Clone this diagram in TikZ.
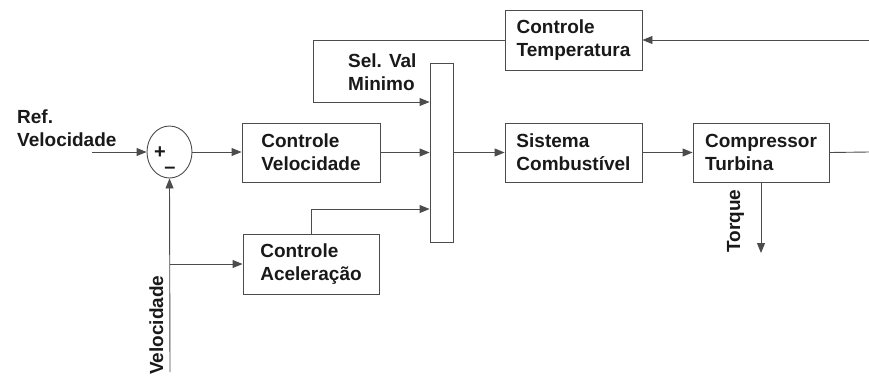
\documentclass[tikz,border=0pt]{standalone}
\usepackage{fontspec}
\setmainfont{Liberation Sans}
\usetikzlibrary{arrows.meta,shapes.geometric}
\begin{document}
\begin{tikzpicture}[x=1pt,y=-1pt,
  every node/.style={font=\fontsize{19}{23}\selectfont\bfseries, text=black!90},
  blk/.style={draw=black!70, line width=0.9pt, rectangle, inner sep=0pt, align=left},
  ln/.style={draw=black!70, line width=0.9pt},
  arr/.style={ln, -{Triangle[length=10pt,width=8pt]}},
  lbl/.style={inner sep=0pt, align=left},
  sgn/.style={font=\fontsize{20}{20}\selectfont\bfseries, inner sep=0pt}]
\useasboundingbox (0,0) rectangle (869,376);
% blocks
\node[blk, draw=black!70, ellipse, minimum width=45pt, minimum height=52pt] (sum) at (169.5,152) {};
\node[sgn] (plus) at (160,153) {+};
\node[sgn] (minus) at (170,170) {–};
\node[blk, minimum width=138pt, minimum height=59pt] (cv) at (311,152.5) {Controle\\Velocidade};
\node[blk, minimum width=137pt, minimum height=60pt] (ct) at (573.5,40) {Controle\\Temperatura};
\node[blk, minimum width=137pt, minimum height=59pt] (sc) at (573.5,152.5) {Sistema\\Combustível};
\node[blk, minimum width=136pt, minimum height=59pt] (tu) at (761,152.5) {Compressor\\Turbina};
\node[blk, minimum width=136pt, minimum height=60pt] (ca) at (311,264) {Controle\\Aceleração};
\node[blk, minimum width=23pt, minimum height=179pt] (sel) at (441.5,152.5) {};
% labels
\node[lbl, anchor=north west] (ref) at (17,109.5) {Ref.\\Velocidade};
\node[lbl, anchor=north west] (selv) at (348,53.5) {Sel. Val\\Minimo};
\node[lbl, anchor=base west, rotate=90] (vel) at (163,375) {Velocidade};
\node[lbl, anchor=base west, rotate=90] (torq) at (740,253) {Torque};
% free ends
\coordinate (in) at (92,152);
\coordinate (out) at (869,152);
\coordinate (tin) at (869,40);
\coordinate (vb) at (170,372);
\coordinate (br) at (170,264);
\coordinate (tq) at (761,253);
\coordinate (t1) at (313,40);
\coordinate (t2) at (313,102);
\coordinate (a1) at (311,209);
% connectors
\draw[arr] (in) -- (sum.west);
\draw[arr] (sum.east) -- (sum.east -| cv.west);
\draw[arr] (cv.east) -- (cv.east -| sel.west);
\draw[arr] (sel.east |- sc.west) -- (sc.west);
\draw[arr] (sc.east) -- (tu.west);
\draw[ln] (tu.east) -- (out);
\draw[arr] (tin) -- (ct.east);
\draw[arr] (ct.west) -- (t1) -- (t2) -- (t2 -| sel.west);
\draw[arr] (ca.north) -- (a1) -- (a1 -| sel.west);
\draw[arr] (vb) -- (sum.south);
\draw[arr] (br) -- (ca.west);
\draw[arr] (tu.south) -- (tq);
\end{tikzpicture}
\end{document}
